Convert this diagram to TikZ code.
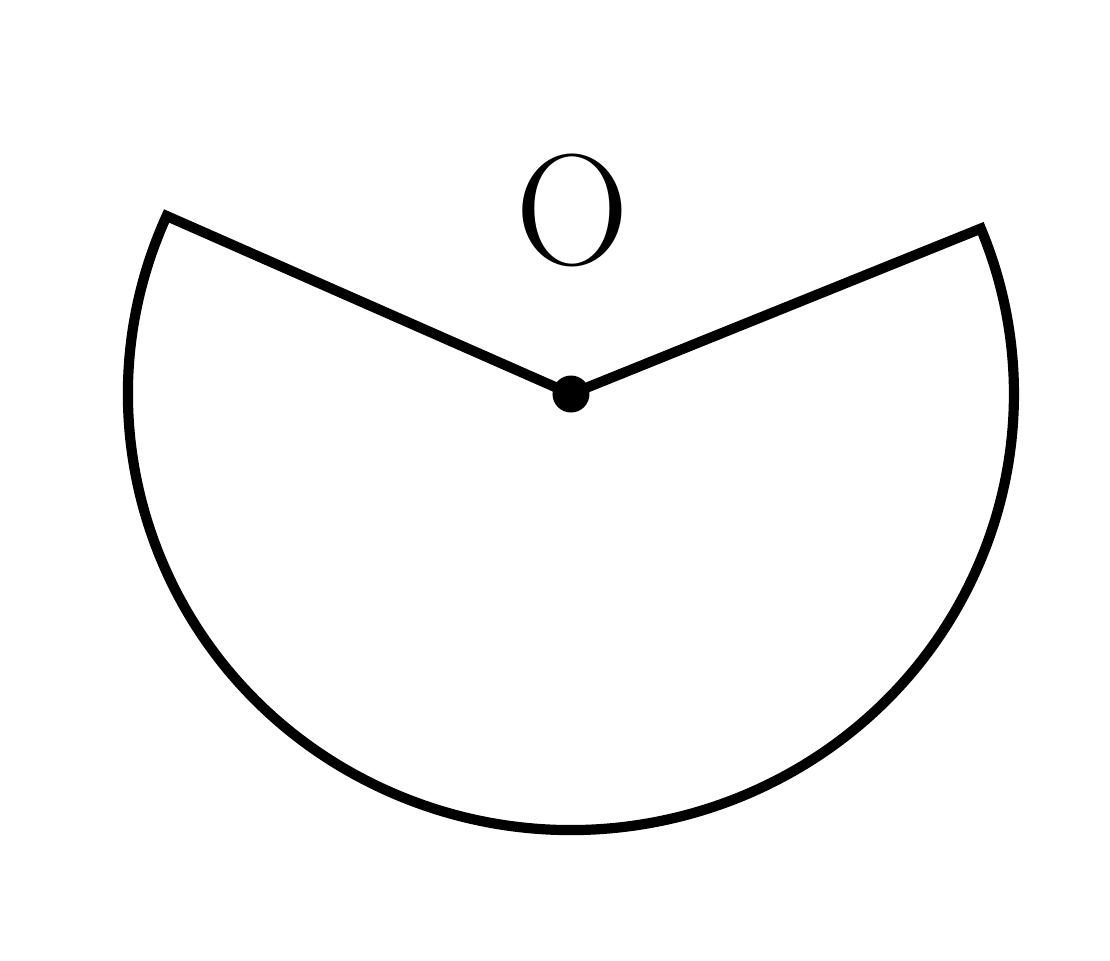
\documentclass[tikz,border=0pt]{standalone}

\begin{document}
\begin{tikzpicture}[sector/.style={line width=2.9pt,line join=miter},
    label/.style={inner sep=0pt,font=\fontsize{45}{50}\selectfont}]
  \useasboundingbox (-5.71,-5.66) rectangle (5.39,3.94);
  \coordinate (O) at (0,0);
  \coordinate (A) at (155.9:4.43 and 4.36);
  \draw[sector] (O) -- (A)
    arc[start angle=155.9,end angle=382.3,x radius=4.43,y radius=4.36] -- cycle;
  \fill (O) circle (0.185);
  \node[label] (o) at (0.01,1.84) {O};
\end{tikzpicture}
\end{document}
